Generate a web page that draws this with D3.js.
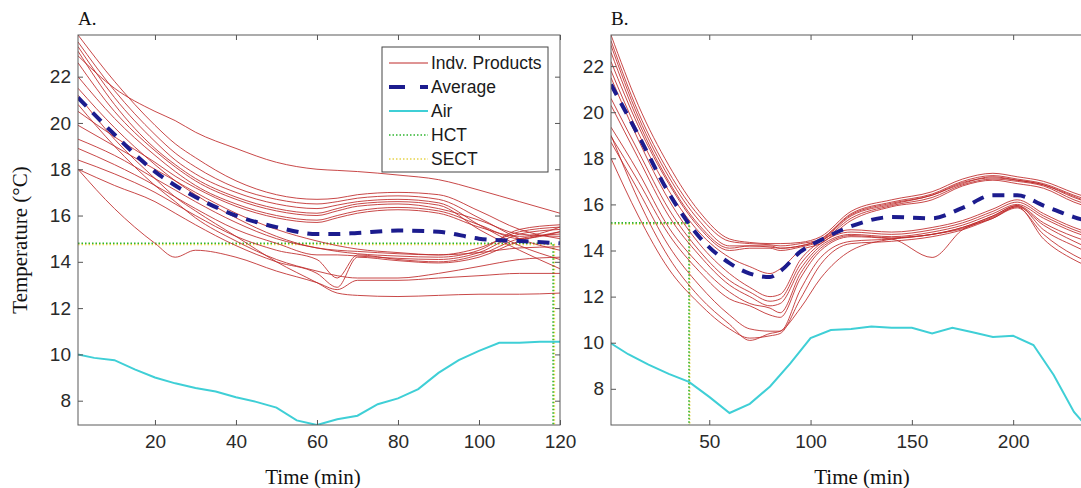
<!DOCTYPE html>
<html>
<head>
<meta charset="utf-8">
<script src="https://cdn.jsdelivr.net/npm/d3@7"></script>
<style>
  body { margin: 0; background: #fff; }
  .tick text { font-family: "Liberation Sans", Arial, sans-serif; font-size: 19px; fill: #2a2a2a; }
  .tick line { stroke: #555; }
  .serif { font-family: "Liberation Serif", "Times New Roman", serif; fill: #111; }
</style>
</head>
<body>
<div id="svg-area"></div>
<script>
// ---- data ----
// panel A (0-120 min)
var tA = [1, 10, 20, 25, 30, 40, 50, 60, 65, 70, 80, 90, 100, 110, 120];
var productsA = [
  [22.9, 21.5, 20.5, 20.1, 19.6, 18.9, 18.3, 18.0, 17.95, 17.9, 17.75, 17.55, 17.1, 16.6, 16.1],
  [23.8, 21.8, 19.9, 19.1, 18.5, 17.5, 16.9, 16.7, 16.75, 16.9, 17.0, 16.9, 16.2, 15.4, 15.0],
  [23.5, 21.4, 19.5, 18.7, 18.1, 17.2, 16.7, 16.5, 16.6, 16.75, 16.85, 16.7, 15.9, 15.0, 14.5],
  [23.3, 21.1, 19.2, 18.4, 17.8, 17.0, 16.5, 16.3, 16.45, 16.6, 16.7, 16.55, 15.6, 14.7, 14.1],
  [23.1, 20.8, 18.9, 18.2, 17.6, 16.8, 16.3, 16.1, 16.3, 16.5, 16.6, 16.45, 15.4, 14.5, 13.7],
  [22.6, 20.5, 18.8, 18.1, 17.5, 16.7, 16.2, 16.0, 16.2, 16.4, 16.5, 16.3, 15.8, 15.2, 15.1],
  [22.0, 20.2, 18.6, 17.9, 17.3, 16.5, 16.0, 15.8, 16.0, 16.2, 16.35, 16.2, 15.6, 15.0, 15.3],
  [20.5, 19.4, 18.3, 17.7, 17.2, 16.4, 15.9, 15.7, 15.9, 16.1, 16.25, 16.1, 15.5, 15.1, 15.5],
  [19.9, 19.0, 18.0, 17.5, 17.0, 16.1, 15.4, 14.9, 14.7, 14.55, 14.4, 14.3, 14.6, 15.3, 15.5],
  [19.3, 18.6, 17.6, 17.1, 16.6, 15.7, 15.0, 14.6, 14.45, 14.35, 14.25, 14.2, 14.5, 15.4, 15.6],
  [18.9, 18.2, 17.3, 16.8, 16.3, 15.4, 14.8, 14.3, 14.3, 14.25, 14.15, 14.1, 14.4, 15.2, 15.4],
  [18.4, 17.8, 17.0, 16.5, 16.0, 15.1, 14.5, 14.1, 13.3, 14.3, 14.1, 14.0, 14.3, 15.0, 15.2],
  [18.0, 17.3, 16.6, 16.1, 15.6, 14.7, 14.0, 13.5, 12.9, 14.2, 14.05, 13.95, 14.2, 14.9, 15.3],
  [18.0, 16.3, 14.8, 14.2, 14.5, 14.2, 13.6, 13.1, 12.8, 13.2, 13.2, 13.3, 13.4, 13.5, 13.5],
  [21.2, 19.3, 17.6, 16.8, 16.2, 15.1, 14.0, 13.1, 12.65, 12.55, 12.5, 12.55, 12.6, 12.6, 12.65],
  [20.8, 19.0, 17.3, 16.6, 15.9, 14.9, 14.1, 13.6, 13.4, 13.3, 13.3, 13.5, 13.8, 14.1, 14.2],
  [21.5, 19.8, 18.2, 17.5, 16.9, 15.9, 15.1, 14.6, 14.5, 14.45, 14.35, 14.3, 14.4, 14.6, 14.65]
];
var avgA = [21.1, 19.5, 17.9, 17.3, 16.8, 16.0, 15.5, 15.2, 15.2, 15.25, 15.35, 15.3, 15.0, 14.9, 14.8];
var airTimeA = [1, 5, 10, 15, 20, 25, 30, 35, 40, 45, 50, 55, 60, 65, 70, 75, 80, 85, 90, 95, 100, 105, 110, 115, 120];
var airA = [10.0, 9.85, 9.75, 9.35, 9.0, 8.75, 8.55, 8.4, 8.15, 7.95, 7.7, 7.15, 6.95, 7.2, 7.35, 7.85, 8.1, 8.5, 9.2, 9.75, 10.15, 10.5, 10.5, 10.55, 10.55];
var hctA = [118.3, 14.8];   // [time, temperature]
var sectA = [118.6, 14.75];

// panel B (0-240 min)
var tB = [1.5, 15, 30, 45, 60, 70, 80, 85, 95, 105, 120, 140, 160, 175, 190, 202, 215, 230, 240];
var productsB = [
  [23.35, 20.3, 17.7, 15.7, 14.5, 14.35, 14.3, 14.3, 14.35, 14.6, 15.7, 16.2, 16.55, 17.1, 17.35, 17.2, 17.0, 16.5, 16.2],
  [23.1, 20.0, 17.4, 15.5, 14.4, 14.3, 14.25, 14.2, 14.3, 14.5, 15.6, 16.1, 16.45, 17.0, 17.25, 17.1, 16.9, 16.4, 16.1],
  [22.9, 19.8, 17.2, 15.3, 14.2, 14.2, 14.15, 14.1, 14.2, 14.45, 15.5, 16.0, 16.4, 16.9, 17.2, 17.05, 16.85, 16.3, 16.0],
  [22.6, 19.6, 17.0, 15.1, 14.1, 14.2, 14.2, 14.1, 14.2, 14.5, 15.55, 16.05, 16.4, 16.95, 17.15, 17.05, 16.85, 16.35, 16.0],
  [22.2, 19.4, 16.9, 15.0, 14.0, 14.1, 14.1, 14.0, 14.15, 14.4, 15.4, 15.95, 16.3, 16.85, 17.1, 17.0, 16.8, 16.2, 15.9],
  [21.8, 19.1, 16.6, 14.8, 13.7, 13.3, 13.0, 13.2, 14.0, 14.3, 15.3, 15.9, 16.2, 16.8, 17.05, 16.9, 16.7, 16.1, 15.8],
  [21.5, 18.8, 16.2, 14.3, 13.0, 12.4, 12.0, 12.1, 13.6, 14.4, 14.9, 14.8, 15.0, 15.3, 15.8, 16.2, 15.6, 15.0, 14.7],
  [20.6, 18.3, 15.8, 14.0, 12.7, 12.2, 11.8, 11.9, 13.4, 14.3, 14.8, 14.7, 14.9, 15.2, 15.7, 16.1, 15.5, 14.9, 14.6],
  [20.3, 18.0, 15.5, 13.8, 12.5, 12.0, 11.6, 11.7, 13.2, 14.2, 14.7, 14.6, 14.8, 15.1, 15.6, 16.0, 15.4, 14.8, 14.5],
  [19.35, 17.4, 15.0, 13.4, 12.2, 11.7, 11.5, 11.3, 13.0, 14.1, 14.65, 14.55, 14.7, 15.0, 15.5, 15.95, 14.9, 14.2, 13.8],
  [18.95, 17.0, 14.7, 13.1, 11.9, 11.6, 11.2, 11.1, 12.8, 14.0, 14.6, 14.5, 13.7, 14.9, 15.4, 15.9, 14.5, 13.6, 13.2],
  [18.7, 16.6, 14.2, 12.5, 11.2, 10.6, 10.5, 10.5, 12.3, 13.7, 14.4, 14.5, 14.7, 14.95, 15.45, 15.9, 15.1, 14.4, 14.0],
  [18.0, 15.5, 13.2, 11.7, 10.6, 10.2, 10.3, 10.4, 11.9, 13.4, 14.3, 14.4, 14.6, 14.9, 15.4, 15.85, 14.7, 13.8, 13.4],
  [19.0, 16.2, 13.7, 12.0, 10.8, 10.1, 10.4, 10.5, 11.5, 12.8, 14.0, 14.5, 14.7, 15.0, 15.5, 15.95, 15.2, 14.6, 14.3]
];
var avgB = [21.2, 19.0, 16.5, 14.6, 13.45, 13.0, 12.85, 13.1, 13.95, 14.45, 15.05, 15.45, 15.4, 15.85, 16.4, 16.4, 15.95, 15.45, 15.2];
var airTimeB = [1, 10, 20, 30, 40, 50, 60, 70, 80, 90, 100, 110, 120, 130, 140, 150, 160, 170, 180, 190, 200, 210, 220, 230, 240];
var airB = [10.0, 9.5, 9.05, 8.65, 8.3, 7.65, 6.95, 7.35, 8.1, 9.1, 10.2, 10.55, 10.6, 10.7, 10.65, 10.65, 10.4, 10.65, 10.45, 10.25, 10.3, 9.9, 8.6, 7.0, 6.0];
var hctB = [40, 15.2];
var sectB = [40.3, 15.15];

var legendLabels = ["Indv. Products", "Average", "Air", "HCT", "SECT"];

// ---- styles ----
var productColor = "rgb(190,40,40)";
var avgColor = "#1c1c8e";
var airColor = "#3fcfd6";
var hctColor = "#2fb52f";
var sectColor = "#e6d34a";

var svgWidth = 1081;
var svgHeight = 488;

var svg = d3.select("#svg-area")
  .append("svg")
  .attr("width", svgWidth)
  .attr("height", svgHeight);

function drawPanel(opt) {
  var x = d3.scaleLinear().domain(opt.xDomain).range(opt.xRange);
  var y = d3.scaleLinear().domain(opt.yDomain).range([425, 35]);
  var g = svg.append("g");

  var clipId = "clip" + opt.id;
  svg.append("clipPath").attr("id", clipId)
    .append("rect")
    .attr("x", opt.xRange[0]).attr("y", 35)
    .attr("width", opt.xRange[1] - opt.xRange[0]).attr("height", 390);

  var plot = g.append("g").attr("clip-path", "url(#" + clipId + ")");

  var smooth = d3.line()
    .x(d => x(d[0]))
    .y(d => y(d[1]))
    .curve(d3.curveMonotoneX);
  var straight = d3.line()
    .x(d => x(d[0]))
    .y(d => y(d[1]));

  // SECT + HCT markers (dotted)
  [[opt.sect, sectColor], [opt.hct, hctColor]].forEach(function(m) {
    var p = m[0];
    plot.append("path")
      .attr("d", straight([[opt.xDomain[0], p[1]], [p[0], p[1]], [p[0], opt.yDomain[0]]]))
      .attr("fill", "none")
      .attr("stroke", m[1])
      .attr("stroke-width", 1.6)
      .attr("stroke-dasharray", "1.5,2");
  });

  // individual products
  plot.selectAll(".prod")
    .data(opt.products)
    .enter()
    .append("path")
    .attr("class", "prod")
    .attr("d", vals => smooth(vals.map((v, i) => [opt.t[i], v])))
    .attr("fill", "none")
    .attr("stroke", productColor)
    .attr("stroke-width", 1)
    .attr("opacity", 0.85);

  // air
  plot.append("path")
    .attr("d", straight(opt.air.map((v, i) => [opt.airTime[i], v])))
    .attr("fill", "none")
    .attr("stroke", airColor)
    .attr("stroke-width", 2);

  // average
  plot.append("path")
    .attr("d", smooth(opt.avg.map((v, i) => [opt.t[i], v])))
    .attr("fill", "none")
    .attr("stroke", avgColor)
    .attr("stroke-width", 4)
    .attr("stroke-dasharray", "12,9");

  // axes, MATLAB-like ticks pointing inward on all four sides
  var bottom = d3.axisBottom(x).tickValues(opt.xTicks).tickSizeInner(-5).tickSizeOuter(0).tickPadding(10);
  var left = d3.axisLeft(y).tickValues(opt.yTicks).tickSizeInner(-5).tickSizeOuter(0).tickPadding(7);
  var top = d3.axisTop(x).tickValues(opt.xTicks).tickSizeInner(-5).tickSizeOuter(0).tickFormat("");
  var right = d3.axisRight(y).tickValues(opt.yTicks).tickSizeInner(-5).tickSizeOuter(0).tickFormat("");

  g.append("g").attr("transform", "translate(0,425)").call(bottom);
  g.append("g").attr("transform", "translate(" + opt.xRange[0] + ",0)").call(left);
  g.append("g").attr("transform", "translate(0,35)").call(top);
  g.append("g").attr("transform", "translate(" + opt.xRange[1] + ",0)").call(right);
  g.selectAll(".domain").remove();

  g.append("rect")
    .attr("x", opt.xRange[0]).attr("y", 35)
    .attr("width", opt.xRange[1] - opt.xRange[0]).attr("height", 390)
    .attr("fill", "none")
    .attr("stroke", "#5a5a5a")
    .attr("stroke-width", 1);

  // panel letter and x title
  g.append("text").attr("class", "serif")
    .attr("x", opt.xRange[0]).attr("y", 25)
    .attr("font-size", 19)
    .text(opt.letter);

  g.append("text").attr("class", "serif")
    .attr("x", opt.titleX).attr("y", 484)
    .attr("text-anchor", "middle")
    .attr("font-size", 21)
    .text("Time (min)");

  return { g: g, x: x, y: y };
}

var panelA = drawPanel({
  id: "A", letter: "A.",
  xDomain: [1, 120], xRange: [78, 560],
  yDomain: [6.95, 23.8],
  xTicks: [20, 40, 60, 80, 100, 120], yTicks: [8, 10, 12, 14, 16, 18, 20, 22],
  t: tA, products: productsA, avg: avgA, airTime: airTimeA, air: airA,
  hct: hctA, sect: sectA, titleX: 313
});

var panelB = drawPanel({
  id: "B", letter: "B.",
  xDomain: [1.5, 240], xRange: [611, 611 + 238.5 * 2.026],
  yDomain: [6.43, 23.35],
  xTicks: [50, 100, 150, 200], yTicks: [8, 10, 12, 14, 16, 18, 20, 22],
  t: tB, products: productsB, avg: avgB, airTime: airTimeB, air: airB,
  hct: hctB, sect: sectB, titleX: 862
});

// y axis title
svg.append("text").attr("class", "serif")
  .attr("transform", "translate(27,240) rotate(-90)")
  .attr("text-anchor", "middle")
  .attr("font-size", 21)
  .text("Temperature (°C)");

// legend (panel A)
var legend = svg.append("g").attr("transform", "translate(382,47)");
legend.append("rect")
  .attr("width", 166).attr("height", 125)
  .attr("fill", "#fff")
  .attr("stroke", "#444")
  .attr("stroke-width", 1);

var legendStyles = [
  { color: productColor, width: 1, dash: null },
  { color: avgColor, width: 4, dash: "16,15" },
  { color: airColor, width: 2, dash: null },
  { color: hctColor, width: 1.6, dash: "1.5,2" },
  { color: sectColor, width: 1.6, dash: "1.5,2" }
];

legendLabels.forEach(function(label, i) {
  var yy = 16 + i * 24;
  legend.append("line")
    .attr("x1", 7).attr("x2", 46)
    .attr("y1", yy).attr("y2", yy)
    .attr("stroke", legendStyles[i].color)
    .attr("stroke-width", legendStyles[i].width)
    .attr("stroke-dasharray", legendStyles[i].dash);
  legend.append("text")
    .attr("x", 49).attr("y", yy + 6)
    .attr("font-family", "Liberation Sans, Arial, sans-serif")
    .attr("font-size", 17.5)
    .attr("fill", "#1a1a1a")
    .text(label);
});
</script>
</body>
</html>
